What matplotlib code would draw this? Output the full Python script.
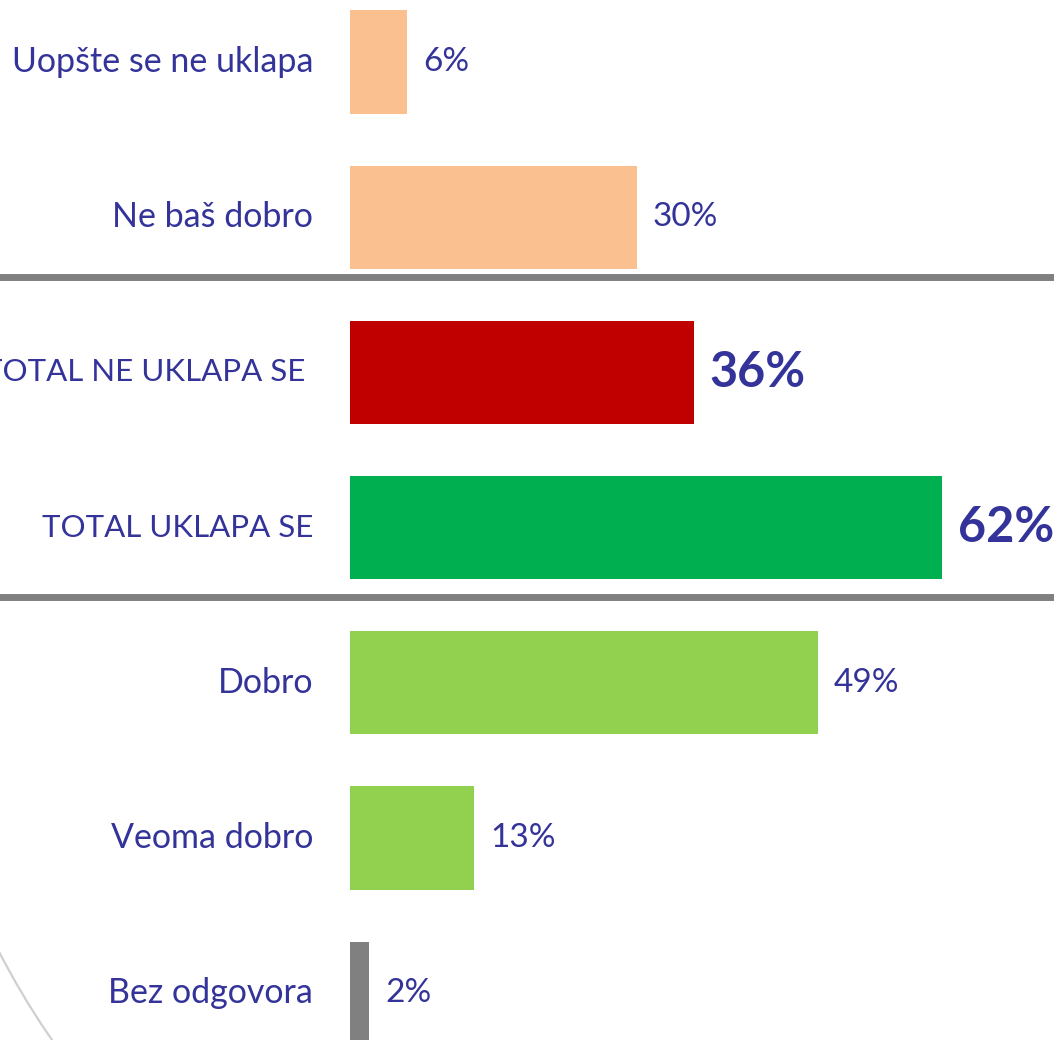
import matplotlib
matplotlib.use("Agg")
import matplotlib.pyplot as plt
from matplotlib.patches import Arc
from matplotlib.lines import Line2D

# data, top to bottom
categories = ["Uopšte se ne uklapa", "Ne baš dobro", "TOTAL NE UKLAPA SE",
              "TOTAL UKLAPA SE", "Dobro", "Veoma dobro", "Bez odgovora"]
values = [6, 30, 36, 62, 49, 13, 2]
bar_colors = ["#FAC090", "#FAC090", "#C00000", "#00B050", "#92D050", "#92D050", "#808080"]
is_total = [False, False, True, True, False, False, False]

text_color = "#333399"
plt.rcParams["font.family"] = ["Lato", "DejaVu Sans"]

W, H = 1054, 1040
fig = plt.figure(figsize=(W / 100, H / 100), dpi=100)

# decoration layer in pixel coords
deco = fig.add_axes([0, 0, 1, 1])
deco.set_xlim(0, W)
deco.set_ylim(H, 0)
deco.axis("off")
deco.add_patch(Arc((710, 585), 1600, 1600, theta1=110, theta2=170,
                   color="#D0D0D0", lw=1.6))
for yy in [277, 597]:
    deco.add_line(Line2D([0, W], [yy, yy], color="#808080", lw=5))

# bars
left_px, px_per_unit = 350, 9.55
x_max = (W - left_px) / px_per_unit
ax = fig.add_axes([left_px / W, 0, 1 - left_px / W, 1])
ax.patch.set_alpha(0)
ypos = list(range(len(categories)))
ax.barh(ypos, values, height=0.665, color=bar_colors)
ax.set_xlim(0, x_max)
ax.set_ylim((H - 62) / 155.2, -62 / 155.2)
ax.axis("off")

for i, (cat, v, tot) in enumerate(zip(categories, values, is_total)):
    off = -45 if cat == "TOTAL NE UKLAPA SE" else -37
    ax.annotate(cat, (0, i), xytext=(off, 0), textcoords="offset pixels",
                ha="right", va="center", fontsize=22.5 if tot else 24.5,
                color=text_color, annotation_clip=False)
    ax.annotate(f"{v}%", (v, i), xytext=(16, 0), textcoords="offset pixels",
                ha="left", va="center", color=text_color,
                fontsize=35 if tot else 24, fontweight="bold" if tot else "normal",
                annotation_clip=False)

fig.savefig("out.png", dpi=100)
